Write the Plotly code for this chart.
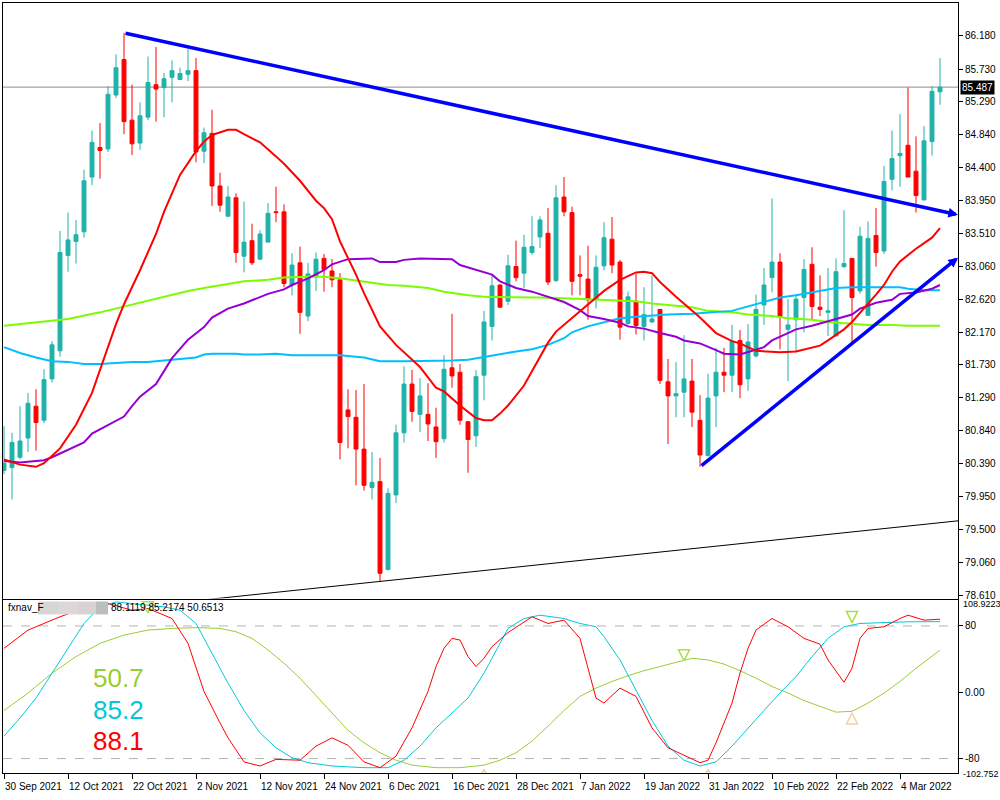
import plotly.graph_objects as go
import numpy as np

# ---------------- data ----------------
symbol_title = "AUDJPY,Daily"
header_ohlc = ["85.423", "85.879", "85.249", "85.487"]
last_price = 85.487

opens = [80.30, 80.34, 80.48, 80.74, 81.17, 80.98, 81.54, 81.92, 83.21, 83.40,
         83.53, 84.27, 84.67, 84.65, 85.38, 85.86, 85.04, 84.73, 85.08, 85.52,
         85.48, 85.62, 85.59, 85.66, 85.71, 84.62, 84.86, 84.15, 83.74, 83.99,
         83.20, 83.41, 83.16, 83.39, 83.80, 83.80, 82.81, 83.11, 82.39, 82.92,
         83.17, 83.00, 82.88, 81.12, 81.02, 80.59, 80.07, 80.15, 78.96, 79.97,
         80.81, 81.47, 81.06, 81.06, 80.89, 80.73, 81.69, 81.63, 80.96, 80.77,
         81.59, 82.25, 82.81, 82.59, 83.06, 82.97, 83.25, 83.46, 83.51, 82.87,
         84.00, 83.79, 82.95, 82.89, 82.61, 83.07, 83.43, 83.12, 82.29, 82.59,
         82.25, 82.31, 82.48, 81.50, 81.31, 81.36, 81.51, 80.98, 80.50, 81.31,
         81.63, 81.59, 82.06, 81.54, 81.85, 82.54, 82.91, 83.12, 82.21, 82.34,
         82.64, 83.09, 82.51, 82.44, 82.12, 83.06, 83.17, 82.73, 82.40, 83.48,
         83.27, 84.24, 84.56, 84.70, 84.35, 83.96, 84.75, 85.423]
highs = [80.90, 80.81, 81.17, 81.35, 81.40, 81.67, 82.05, 83.54, 83.79, 83.69,
         84.37, 84.90, 85.00, 85.50, 85.93, 86.22, 85.52, 85.28, 85.90, 86.03,
         85.68, 85.85, 85.75, 86.00, 85.88, 84.94, 85.18, 84.33, 84.15, 84.05,
         83.94, 83.64, 83.55, 83.92, 84.14, 83.90, 83.24, 83.33, 83.11, 83.25,
         83.23, 83.16, 82.97, 81.40, 81.39, 81.47, 80.55, 80.47, 80.06, 80.92,
         81.71, 81.66, 81.55, 81.48, 81.15, 81.86, 82.42, 81.74, 80.97, 81.66,
         82.46, 82.96, 82.82, 83.22, 83.41, 83.49, 83.74, 83.74, 83.85, 84.16,
         84.27, 83.87, 83.21, 83.34, 83.21, 83.66, 83.73, 83.15, 82.72, 82.96,
         82.78, 82.94, 82.48, 81.81, 81.77, 82.13, 81.81, 81.32, 81.61, 81.96,
         81.96, 82.27, 82.20, 82.28, 82.68, 83.04, 83.98, 83.24, 82.62, 82.68,
         83.16, 83.32, 82.94, 83.04, 83.17, 83.82, 83.17, 83.60, 83.67, 83.85,
         84.42, 84.90, 85.12, 85.48, 84.82, 84.96, 85.50, 85.879]
lows = [80.25, 79.91, 80.45, 80.55, 80.57, 80.94, 81.49, 81.84, 82.99, 83.10,
        83.45, 84.16, 84.25, 84.61, 85.34, 84.85, 84.57, 84.64, 85.04, 85.02,
        85.08, 85.28, 85.59, 85.57, 84.47, 84.46, 83.88, 83.80, 83.74, 83.11,
        82.98, 83.08, 83.15, 83.39, 83.66, 82.78, 82.67, 82.15, 82.32, 82.73,
        82.72, 82.78, 80.45, 80.60, 80.10, 80.03, 79.91, 78.80, 78.95, 79.86,
        80.68, 80.96, 80.82, 80.70, 80.47, 80.68, 81.42, 80.92, 80.27, 80.62,
        81.25, 82.06, 82.51, 82.54, 82.86, 82.77, 83.22, 83.31, 82.81, 82.85,
        83.74, 82.67, 82.67, 82.34, 82.49, 83.01, 82.97, 82.07, 82.27, 82.14,
        82.06, 82.30, 81.47, 80.66, 81.02, 81.02, 80.89, 80.35, 80.50, 80.89,
        81.36, 81.36, 81.28, 81.38, 81.83, 82.27, 82.71, 81.94, 81.51, 81.90,
        82.17, 82.35, 82.39, 82.12, 82.12, 83.04, 82.04, 82.69, 82.39, 83.06,
        83.23, 84.09, 84.14, 84.27, 83.79, 83.96, 84.56, 85.249]
closes = [80.40, 80.68, 80.70, 81.21, 80.95, 81.53, 82.00, 83.25, 83.42, 83.49,
          84.22, 84.74, 84.63, 85.39, 85.75, 85.02, 84.72, 85.10, 85.55, 85.46,
          85.60, 85.71, 85.67, 85.71, 84.61, 84.87, 84.15, 83.89, 84.00, 83.25,
          83.39, 83.11, 83.50, 83.78, 83.79, 82.83, 83.08, 82.44, 82.96, 83.16,
          83.02, 82.88, 80.68, 81.03, 80.59, 80.10, 80.14, 78.91, 79.99, 80.81,
          81.47, 81.10, 81.31, 80.93, 80.69, 81.67, 81.58, 80.98, 80.72, 81.57,
          82.31, 82.80, 82.51, 83.07, 82.91, 83.32, 83.33, 83.69, 82.85, 83.99,
          83.80, 82.86, 82.93, 82.61, 83.05, 83.45, 83.08, 82.24, 82.65, 82.26,
          82.41, 82.35, 81.52, 81.31, 81.34, 81.54, 81.09, 80.51, 81.28, 81.63,
          81.59, 82.05, 81.46, 82.04, 82.48, 82.81, 83.12, 82.38, 82.27, 82.62,
          83.02, 82.52, 82.48, 82.46, 82.99, 83.10, 82.64, 83.47, 83.44, 83.25,
          84.21, 84.52, 84.59, 84.27, 84.02, 84.76, 85.43, 85.487]
bars = list(range(len(opens)))

date_tick_index = [0, 8, 16, 24, 32, 40, 48, 56, 64, 72, 80, 88, 96, 104, 112]
date_tick_labels = ["30 Sep 2021", "12 Oct 2021", "22 Oct 2021", "2 Nov 2021",
                    "12 Nov 2021", "24 Nov 2021", "6 Dec 2021", "16 Dec 2021",
                    "28 Dec 2021", "7 Jan 2022", "19 Jan 2022", "31 Jan 2022",
                    "10 Feb 2022", "22 Feb 2022", "4 Mar 2022"]

price_ticks = [86.180, 85.730, 85.290, 84.840, 84.400, 83.950, 83.510, 83.060,
               82.620, 82.170, 81.730, 81.290, 80.840, 80.390, 79.950, 79.500,
               79.060, 78.610]

# moving averages (bar index, value)
ma_red_x = [0, 2, 4, 5, 7, 9, 11, 12, 13, 14, 15, 17, 19, 20, 22, 24, 25, 26, 28, 29,
            30, 32, 34, 35, 37, 39, 40, 41, 42, 44, 45, 47, 49, 50, 52, 54, 55, 57, 59,
            60, 61, 62, 63, 65, 67, 68, 69, 70, 72, 74, 75, 77, 79, 80, 81, 82, 84, 87,
            89, 91, 92, 94, 97, 99, 100, 102, 103, 105, 106, 107, 109, 110, 111, 112,
            114, 116, 117]
ma_red_y = [80.45, 80.38, 80.35, 80.40, 80.60, 80.92, 81.35, 81.67, 81.97, 82.28,
            82.55, 83.01, 83.50, 83.80, 84.30, 84.62, 84.75, 84.84, 84.91, 84.91,
            84.85, 84.74, 84.55, 84.45, 84.22, 83.95, 83.85, 83.70, 83.40, 82.95,
            82.70, 82.25, 82.00, 81.90, 81.70, 81.42, 81.37, 81.18, 81.01, 80.98,
            80.98, 81.07, 81.18, 81.45, 81.85, 82.03, 82.18, 82.27, 82.45, 82.64,
            82.73, 82.88, 82.98, 82.99, 82.97, 82.85, 82.65, 82.37, 82.16, 82.05,
            82.02, 81.92, 81.90, 81.91, 81.94, 81.99, 82.06, 82.21, 82.31, 82.43,
            82.68, 82.81, 82.99, 83.13, 83.30, 83.45, 83.58]
ma_purple_x = [0, 2, 4, 5, 6, 8, 10, 11, 13, 15, 16, 17, 19, 20, 21, 23, 25, 26, 28,
               30, 31, 33, 35, 36, 38, 40, 41, 43, 46, 47, 49, 50, 52, 54, 56, 57, 59,
               61, 62, 64, 66, 68, 70, 72, 73, 75, 77, 78, 80, 82, 84, 85, 87, 89, 90,
               92, 93, 95, 96, 98, 99, 101, 102, 104, 106, 107, 109, 111, 112, 114,
               116, 117]
ma_purple_y = [80.43, 80.41, 80.43, 80.44, 80.48, 80.58, 80.68, 80.80, 80.92, 81.03,
               81.17, 81.30, 81.47, 81.64, 81.82, 82.07, 82.24, 82.37, 82.49, 82.56,
               82.60, 82.69, 82.75, 82.81, 82.90, 83.01, 83.09, 83.16, 83.17, 83.12,
               83.12, 83.15, 83.17, 83.16, 83.16, 83.08, 83.01, 82.95, 82.86, 82.77,
               82.72, 82.65, 82.58, 82.47, 82.39, 82.35, 82.30, 82.25, 82.22, 82.16,
               82.11, 82.06, 82.02, 81.93, 81.88, 81.87, 81.90, 81.97, 82.06, 82.16,
               82.21, 82.26, 82.29, 82.35, 82.41, 82.49, 82.57, 82.61, 82.69, 82.71,
               82.76, 82.81]
ma_blue_x = [0, 2, 4, 6, 8, 10, 12, 14, 16, 18, 20, 22, 24, 25, 26, 29, 30, 32, 34,
             36, 38, 40, 42, 45, 47, 50, 52, 54, 56, 58, 60, 62, 64, 66, 68, 70, 71,
             73, 75, 77, 79, 81, 83, 86, 88, 91, 92, 94, 96, 97, 99, 101, 102, 104,
             106, 107, 109, 111, 112, 113, 115, 117]
ma_blue_y = [81.97, 81.89, 81.83, 81.78, 81.77, 81.74, 81.74, 81.76, 81.77, 81.77,
             81.79, 81.82, 81.83, 81.87, 81.88, 81.88, 81.87, 81.87, 81.88, 81.86,
             81.86, 81.87, 81.86, 81.83, 81.78, 81.78, 81.78, 81.78, 81.79, 81.80,
             81.84, 81.87, 81.91, 81.94, 82.00, 82.09, 82.17, 82.25, 82.31, 82.36,
             82.38, 82.40, 82.41, 82.42, 82.44, 82.46, 82.49, 82.55, 82.60, 82.64,
             82.67, 82.71, 82.73, 82.77, 82.78, 82.78, 82.77, 82.78, 82.78, 82.76,
             82.74, 82.74]
ma_green_x = [0, 4, 8, 12, 15, 18, 20, 23, 25, 28, 30, 33, 35, 38, 40, 42, 44, 48, 50,
              53, 55, 58, 60, 62, 64, 67, 70, 72, 74, 77, 79, 81, 83, 86, 88, 91, 93,
              96, 98, 101, 103, 106, 108, 111, 113, 117]
ma_green_y = [82.26, 82.30, 82.35, 82.44, 82.52, 82.59, 82.65, 82.73, 82.77, 82.83,
              82.86, 82.88, 82.91, 82.92, 82.92, 82.90, 82.87, 82.81, 82.80, 82.77,
              82.72, 82.67, 82.65, 82.65, 82.65, 82.64, 82.63, 82.62, 82.61, 82.60,
              82.59, 82.56, 82.54, 82.51, 82.46, 82.44, 82.41, 82.39, 82.36, 82.34,
              82.31, 82.29, 82.27, 82.27, 82.26, 82.26]

# trend lines (bar index, price)
resistance_bars = [15, 119.25]
resistance_prices = [86.22, 83.76]
support_bars = [87, 119.25]
support_prices = [80.35, 83.18]
base_line_bars = [47, 119.25]
base_line_prices = [78.80, 79.62]

# oscillator sub-window (bar index, value)
osc_values_header = "88.1119 85.2174 50.6513"
osc_red_x = [0, 3, 7, 11, 13, 16, 18, 21, 23, 25, 27, 28, 30, 32, 34, 37, 39, 41, 43,
             45, 47, 49, 51, 53, 54, 55, 56, 57, 58, 59, 60, 61, 63, 65, 66, 68, 70,
             72, 73, 74, 75, 77, 79, 81, 83, 85, 87, 88, 89, 91, 92, 93, 94, 96, 98,
             100, 102, 103, 105, 106, 107, 108, 110, 112, 113, 115, 117]
osc_red_y = [53, 75, 91, 105, 107, 99, 101, 89, 59, 1, -37, -55, -84, -89, -81, -82,
             -65, -55, -64, -84, -91, -77, -43, 1, 31, 53, 65, 63, 43, 31, 41, 55, 72,
             84, 91, 83, 87, 65, 29, -7, -13, 5, -5, -43, -67, -76, -85, -82, -61, -13,
             23, 53, 75, 89, 79, 65, 58, 39, 12, 29, 65, 77, 79, 89, 93, 87, 88.1]
osc_cyan_x = [0, 2, 4, 6, 8, 10, 12, 14, 17, 20, 22, 24, 26, 28, 30, 32, 34, 36, 38,
              41, 45, 48, 50, 52, 54, 56, 58, 60, 62, 63, 65, 67, 70, 72, 74, 75, 77,
              79, 81, 83, 85, 87, 89, 91, 93, 95, 97, 99, 101, 103, 105, 107, 110, 113,
              117]
osc_cyan_y = [-53, -31, -7, 23, 53, 83, 103, 109, 106, 103, 99, 83, 47, 11, -22, -49,
              -67, -79, -85, -89, -91, -91, -82, -65, -43, -25, -7, 23, 59, 77, 89, 93,
              89, 83, 79, 67, 39, 2, -34, -65, -82, -89, -84, -65, -43, -22, -1, 19,
              43, 65, 79, 83, 84, 85, 85.2]
osc_olive_x = [0, 3, 6, 9, 12, 15, 18, 21, 24, 27, 29, 31, 33, 35, 37, 39, 41, 43, 45,
               47, 49, 51, 54, 57, 60, 62, 64, 66, 68, 70, 72, 74, 76, 78, 80, 82, 84,
               86, 88, 90, 92, 94, 96, 98, 100, 102, 104, 106, 108, 110, 112, 114, 116,
               117]
osc_olive_y = [-22, -1, 23, 43, 59, 69, 75, 77, 78, 77, 73, 65, 51, 35, 17, -4, -25,
               -46, -61, -73, -82, -88, -91, -91, -88, -82, -73, -59, -41, -22, -5, 5,
               13, 20, 26, 31, 36, 41, 39, 34, 26, 17, 7, -1, -10, -17, -24, -23, -13,
               -1, 13, 29, 43, 50.7]
osc_down_arrow_x = [18, 85, 106]
osc_down_arrow_y = [96, 38, 84]
osc_up_arrow_x = [60, 88, 106]
osc_up_arrow_y = [-93, -93, -25]
osc_levels = [80, -80]
osc_ticks = [80, 0, -80]
osc_tick_labels = ["80", "0.00", "-80"]
osc_edge_labels = ["108.9223", "-102.752"]
osc_big_values = ["50.7", "85.2", "88.1"]

# ---------------- style ----------------
TEAL = "#20b2aa"
RED = "#ff0000"
FONT = "Liberation Sans"
W, H = 1000, 800

def px(x):
    return x / W

def py(y):
    return 1 - y / H

X_RANGE = [-0.125, 119.25]

fig = go.Figure()

fig.add_trace(go.Candlestick(
    x=bars, open=opens, high=highs, low=lows, close=closes,
    increasing=dict(line=dict(color=TEAL, width=1), fillcolor=TEAL),
    decreasing=dict(line=dict(color=RED, width=1), fillcolor=RED),
    whiskerwidth=0, xaxis="x", yaxis="y", showlegend=False, hoverinfo="skip"))

for xs, ys, col in [(ma_green_x, ma_green_y, "#7cfc00"),
                    (ma_blue_x, ma_blue_y, "#00bfff"),
                    (ma_purple_x, ma_purple_y, "#9400d3"),
                    (ma_red_x, ma_red_y, "#ff0000")]:
    fig.add_trace(go.Scatter(x=xs, y=ys, mode="lines", line=dict(color=col, width=2),
                             xaxis="x", yaxis="y", showlegend=False, hoverinfo="skip"))

# base (thin black) trend line, extended to the left edge
coef = np.polyfit(base_line_bars, base_line_prices, 1)
bx = [20, base_line_bars[1]]
fig.add_trace(go.Scatter(x=bx, y=list(np.polyval(coef, bx)), mode="lines",
                         line=dict(color="black", width=1), xaxis="x", yaxis="y",
                         showlegend=False, hoverinfo="skip"))

# blue trend lines with arrowheads
for bxs, pys in [(resistance_bars, resistance_prices), (support_bars, support_prices)]:
    fig.add_annotation(x=bxs[1], y=pys[1], ax=bxs[0], ay=pys[0], xref="x", yref="y",
                       axref="x", ayref="y", showarrow=True, arrowhead=2, arrowsize=0.55,
                       arrowwidth=3.5, arrowcolor="#0000ff", text="")

# oscillator window
for xs, ys, col in [(osc_olive_x, osc_olive_y, "#9acd32"),
                    (osc_cyan_x, osc_cyan_y, "#00c8d8"),
                    (osc_red_x, osc_red_y, "#ff0000")]:
    fig.add_trace(go.Scatter(x=xs, y=ys, mode="lines", line=dict(color=col, width=1),
                             xaxis="x2", yaxis="y2", showlegend=False, hoverinfo="skip"))
fig.add_trace(go.Scatter(x=osc_down_arrow_x, y=osc_down_arrow_y, mode="markers",
                         marker=dict(symbol="arrow-down-open", size=11, color="#a8e040",
                                     line=dict(width=1.5, color="#a8e040")),
                         xaxis="x2", yaxis="y2", showlegend=False, hoverinfo="skip"))
fig.add_trace(go.Scatter(x=osc_up_arrow_x, y=osc_up_arrow_y, mode="markers",
                         marker=dict(symbol="arrow-up-open", size=11, color="#f5d0a0",
                                     line=dict(width=1.5, color="#f5d0a0")),
                         xaxis="x2", yaxis="y2", showlegend=False, hoverinfo="skip"))

shapes = []
for lv in osc_levels:
    shapes.append(dict(type="line", xref="x2 domain", yref="y2", x0=0, x1=1, y0=lv, y1=lv,
                       line=dict(color="#b4b4b4", width=1, dash="dash"), layer="below"))
shapes.append(dict(type="line", xref="x domain", yref="y", x0=0, x1=1, y0=last_price,
                   y1=last_price, line=dict(color="#8c8c8c", width=1), layer="below"))
# redaction blur block in the indicator caption
for x0, x1, c in [(38, 58, "#d6d6d6"), (58, 78, "#ddd8d8"), (78, 96, "#d8d2d2"),
                  (96, 108, "#babebf")]:
    shapes.append(dict(type="rect", xref="paper", yref="paper", x0=px(x0), x1=px(x1),
                       y0=py(616), y1=py(603), fillcolor=c, line=dict(width=0)))

annotations = []
annotations.append(dict(x=px(5), y=py(12), xref="paper", yref="paper", text="▼",
                        showarrow=False, xanchor="left", yanchor="middle",
                        font=dict(family="DejaVu Sans", size=8, color="black")))
annotations.append(dict(x=px(18), y=py(12), xref="paper", yref="paper",
                        text=symbol_title + "  " + " ".join(header_ohlc),
                        showarrow=False, xanchor="left", yanchor="middle",
                        font=dict(family=FONT, size=10, color="black")))
annotations.append(dict(x=1, y=last_price, xref="x domain", yref="y",
                        text=f"{last_price:.3f}", showarrow=False,
                        xanchor="left", yanchor="middle", xshift=2, bgcolor="black",
                        font=dict(family=FONT, size=10, color="white"), borderpad=1))
annotations.append(dict(x=px(6), y=py(609), xref="paper", yref="paper", text="fxnav_F",
                        showarrow=False, xanchor="left", yanchor="middle",
                        font=dict(family=FONT, size=10, color="black")))
annotations.append(dict(x=px(109), y=py(609), xref="paper", yref="paper",
                        text=osc_values_header, showarrow=False, xanchor="left",
                        yanchor="middle", font=dict(family=FONT, size=10, color="black")))
for txt, yy, col in zip(osc_big_values, [680, 712, 743], ["#9acd32", "#00c8d8", "#ff0000"]):
    annotations.append(dict(x=px(91), y=py(yy), xref="paper", yref="paper", text=txt,
                            showarrow=False, xanchor="left", yanchor="middle",
                            font=dict(family=FONT, size=26, color=col)))
for txt, yy in zip(osc_edge_labels, [606, 776]):
    annotations.append(dict(x=px(961), y=py(yy), xref="paper", yref="paper", text=txt,
                            showarrow=False, xanchor="left", yanchor="middle",
                            font=dict(family=FONT, size=9, color="black")))
for idx, lab in zip(date_tick_index, date_tick_labels):
    annotations.append(dict(x=idx, y=py(788), xref="x2", yref="paper", text=lab,
                            showarrow=False, xanchor="left", yanchor="middle", xshift=-1,
                            font=dict(family=FONT, size=10, color="black")))

axis_common = dict(showgrid=False, zeroline=False, showline=True, mirror=True,
                   linecolor="black", linewidth=1)

fig.update_layout(
    width=W, height=H, margin=dict(l=0, r=0, t=0, b=0),
    paper_bgcolor="white", plot_bgcolor="white", showlegend=False,
    font=dict(family=FONT, size=10, color="black"),
    xaxis=dict(domain=[px(3), px(958)], range=X_RANGE, anchor="y",
               showticklabels=False, ticks="", rangeslider=dict(visible=False),
               **axis_common),
    yaxis=dict(domain=[py(600), py(3)], range=[78.569, 86.625], side="right",
               anchor="x", tickvals=price_ticks,
               ticktext=[f"{v:.3f}" for v in price_ticks], ticks="outside", ticklen=4,
               tickcolor="black", tickfont=dict(family=FONT, size=10), **axis_common),
    xaxis2=dict(domain=[px(3), px(958)], range=X_RANGE, anchor="y2",
                tickvals=date_tick_index, showticklabels=False, ticks="outside",
                ticklen=5, tickcolor="black", **axis_common),
    yaxis2=dict(domain=[py(775), py(602)], range=[-97.5, 110.7], side="right",
                anchor="x2", tickvals=osc_ticks, ticktext=osc_tick_labels,
                ticks="outside", ticklen=4, tickcolor="black",
                tickfont=dict(family=FONT, size=10), **axis_common),
    shapes=shapes, annotations=annotations,
)

fig.write_html("out.html")
